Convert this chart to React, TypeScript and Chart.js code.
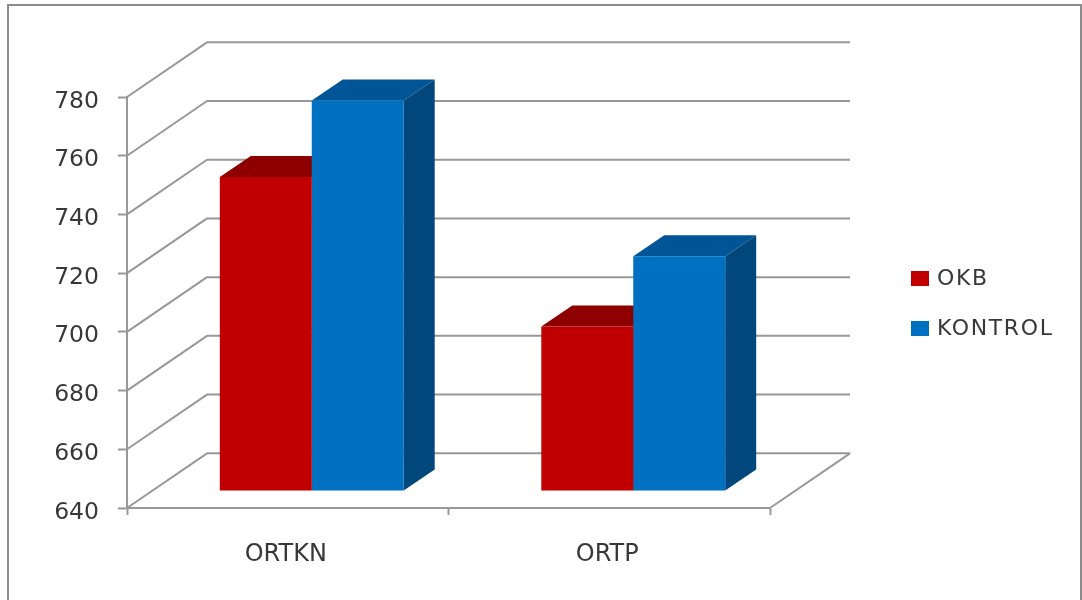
import React, { useEffect, useRef } from "react";
import { Chart, registerables } from "chart.js";

Chart.register(...registerables);

const categories = ["ORTKN", "ORTP"];
const okbValues = [747, 696];
const kontrolValues = [773, 720];
const valueTicks = { min: 640, max: 780, step: 20 };

const FONT = '"DejaVu Sans", sans-serif';
const TEXT = "#383838";
const LINE = "#989898";

// Perspective offsets of the box: back wall relative to the front axes,
// bar base relative to the front axes, and the depth of a single bar.
const WALL = { dx: 80, dy: -54.7 };
const BAR_BASE = { dx: 24, dy: -17 };
const BAR_DEPTH = { dx: 31, dy: -21 };

const faces = [
  { front: "#C00000", top: "#8E0000", side: "#8E0000" },
  { front: "#0070C0", top: "#005596", side: "#00477C" },
];

const box3d = {
  id: "box3d",
  beforeDraw(chart: any) {
    const { ctx } = chart;
    ctx.save();
    ctx.strokeStyle = "#8c8c8c";
    ctx.lineWidth = 2;
    ctx.strokeRect(8, 5, 1073, 620);
    ctx.restore();
  },
  beforeDatasetsDraw(chart: any) {
    const { ctx, chartArea, scales } = chart;
    const { left, right, bottom } = chartArea;

    // Walls and floor: each tick runs back along the side wall, then across the back.
    ctx.save();
    ctx.strokeStyle = LINE;
    ctx.lineWidth = 2;
    ctx.lineJoin = "round";
    scales.y.ticks.forEach((tick: any) => {
      const y = scales.y.getPixelForValue(tick.value);
      ctx.beginPath();
      ctx.moveTo(left, y);
      ctx.lineTo(left + WALL.dx, y + WALL.dy);
      ctx.lineTo(right + WALL.dx, y + WALL.dy);
      ctx.stroke();
    });
    ctx.beginPath();
    ctx.moveTo(right, bottom);
    ctx.lineTo(right + WALL.dx, bottom + WALL.dy);
    ctx.stroke();
    ctx.restore();

    // Everything up to afterDatasetsDraw sits on the raised floor.
    ctx.save();
    ctx.translate(BAR_BASE.dx, BAR_BASE.dy);

    chart.data.datasets.forEach((_: any, di: number) => {
      chart.getDatasetMeta(di).data.forEach((bar: any) => {
        const { x, y, base, width } = bar.getProps(["x", "y", "base", "width"], true);
        const l = x - width / 2;
        const r = x + width / 2;
        ctx.fillStyle = faces[di].top;
        ctx.beginPath();
        ctx.moveTo(l, y);
        ctx.lineTo(l + BAR_DEPTH.dx, y + BAR_DEPTH.dy);
        ctx.lineTo(r + BAR_DEPTH.dx, y + BAR_DEPTH.dy);
        ctx.lineTo(r, y);
        ctx.closePath();
        ctx.fill();
        ctx.fillStyle = faces[di].side;
        ctx.beginPath();
        ctx.moveTo(r, y);
        ctx.lineTo(r + BAR_DEPTH.dx, y + BAR_DEPTH.dy);
        ctx.lineTo(r + BAR_DEPTH.dx, base + BAR_DEPTH.dy);
        ctx.lineTo(r, base);
        ctx.closePath();
        ctx.fill();
      });
    });
  },
  afterDatasetsDraw(chart: any) {
    chart.ctx.restore();
  },
  afterDraw(chart: any) {
    // Legend on the right, one swatch and label per series.
    const { ctx } = chart;
    ctx.save();
    ctx.font = `22px ${FONT}`;
    ctx.textBaseline = "middle";
    ctx.textAlign = "left";
    (ctx as any).letterSpacing = "1.6px";
    chart.data.datasets.forEach((ds: any, i: number) => {
      const cy = 278.5 + i * 50;
      ctx.fillStyle = ds.backgroundColor;
      ctx.fillRect(911, cy - 7.5, 18, 15);
      ctx.fillStyle = TEXT;
      ctx.fillText(ds.label, 937, cy + 1);
    });
    ctx.restore();
  },
};

export default function App() {
  const ref = useRef<HTMLCanvasElement>(null);

  useEffect(() => {
    const chart = new Chart(ref.current as HTMLCanvasElement, {
      type: "bar",
      data: {
        labels: categories,
        datasets: [
          {
            label: "OKB",
            data: okbValues,
            base: valueTicks.min,
            backgroundColor: faces[0].front,
            clip: false,
            barPercentage: 1,
            categoryPercentage: 0.572,
          },
          {
            label: "KONTROL",
            data: kontrolValues,
            base: valueTicks.min,
            backgroundColor: faces[1].front,
            clip: false,
            barPercentage: 1,
            categoryPercentage: 0.572,
          },
        ],
      },
      options: {
        responsive: false,
        animation: false,
        layout: { padding: { top: 97, right: 312, left: 0, bottom: 0 } },
        plugins: { legend: { display: false }, tooltip: { enabled: false } },
        scales: {
          x: {
            afterFit(scale: any) {
              scale.height = 92;
            },
            grid: { drawOnChartArea: false, drawTicks: true, tickLength: 7, tickColor: LINE, tickWidth: 2 },
            border: { color: LINE, width: 2 },
            ticks: {
              color: TEXT,
              font: { family: FONT, size: 24 },
              padding: 25,
              labelOffset: -2,
              maxRotation: 0,
            },
          },
          y: {
            min: valueTicks.min,
            max: valueTicks.max,
            afterFit(scale: any) {
              scale.width = 127;
            },
            grid: { drawOnChartArea: false, drawTicks: true, tickLength: 9, tickColor: LINE, tickWidth: 2 },
            border: { color: LINE, width: 2 },
            ticks: {
              color: TEXT,
              font: { family: FONT, size: 23.5 },
              padding: 19,
              labelOffset: 4.5,
              stepSize: valueTicks.step,
            },
          },
        },
      },
      plugins: [box3d],
    } as any);
    return () => chart.destroy();
  }, []);

  return (
    <canvas
      ref={ref}
      width={1082}
      height={600}
      style={{ position: "absolute", left: 0, top: 0, display: "block" }}
    />
  );
}
